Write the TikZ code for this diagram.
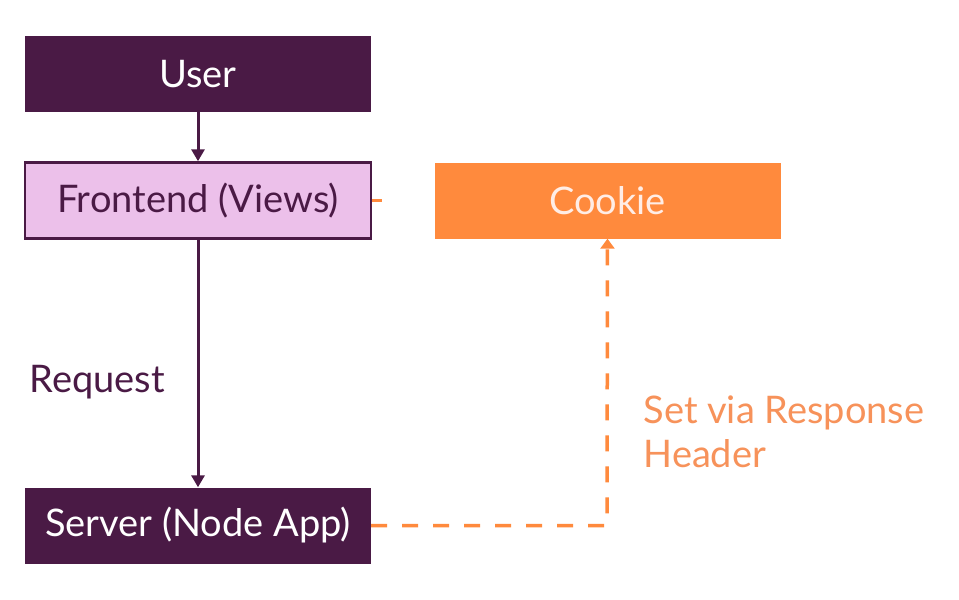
\documentclass[tikz,border=0pt]{standalone}
\usepackage{fontspec}
\setmainfont{Lato}
\usetikzlibrary{arrows.meta}
\definecolor{dpurple}{HTML}{4A1A45}
\definecolor{lpink}{HTML}{ECC0EA}
\definecolor{corange}{HTML}{FF8A3D}
\definecolor{lorange}{HTML}{F7925A}
\definecolor{ctext}{HTML}{FFEDE6}
\begin{document}
\begin{tikzpicture}[x=1pt,y=-1pt,
  box/.style={minimum width=346pt,minimum height=76pt,inner sep=0pt,font=\fontsize{38}{44}\selectfont},
  darkbox/.style={box,fill=dpurple,text=white},
  lightbox/.style={box,fill=lpink,draw=dpurple,line width=2.5pt,text=dpurple},
  orangebox/.style={box,fill=corange,text=ctext},
  arr/.style={draw=dpurple,line width=3pt,-{Triangle[length=12pt,width=13pt]}},
  darr/.style={draw=corange,line width=3.5pt,dash pattern=on 16pt off 15pt,-{Triangle[length=10pt,width=14pt]}},
  lbl/.style={font=\fontsize{38}{44}\selectfont,anchor=west,align=left}]
\useasboundingbox[fill=white] (0,0) rectangle (959,600);
\node[darkbox] (user) at (198,74) {User};
\node[lightbox] (front) at (198,200.5) {Frontend (Views)};
\node[orangebox] (cookie) at (607.5,200.5) {Cookie};
\node[darkbox] (server) at (198,525.5) {Server (Node App)};
\draw[arr] (user) -- (front);
\draw[arr] (front) -- (server);
\node[lbl,text=dpurple] (req) at (26,382) {Request};
\node[lbl,text=lorange] (setvia) at (640,432) {Set via Response\\Header};
\coordinate (corner) at (607,525.5);
\draw[darr] (server.east) -- (corner) -- (cookie.south);
\coordinate (stub) at (382,200.5);
\draw[corange,line width=3pt] (front.east) -- (stub);
\end{tikzpicture}
\end{document}
